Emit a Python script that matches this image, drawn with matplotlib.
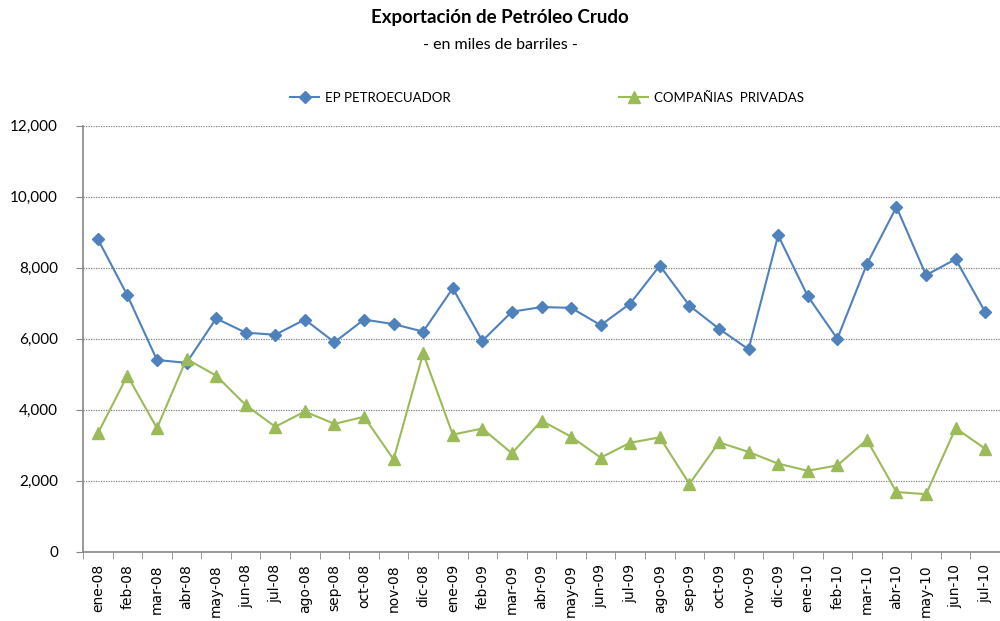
import matplotlib
matplotlib.use("Agg")
import matplotlib.pyplot as plt
from matplotlib import ticker

months = ["ene-08", "feb-08", "mar-08", "abr-08", "may-08", "jun-08", "jul-08",
          "ago-08", "sep-08", "oct-08", "nov-08", "dic-08",
          "ene-09", "feb-09", "mar-09", "abr-09", "may-09", "jun-09", "jul-09",
          "ago-09", "sep-09", "oct-09", "nov-09", "dic-09",
          "ene-10", "feb-10", "mar-10", "abr-10", "may-10", "jun-10", "jul-10"]

petroecuador = [8810, 7220, 5400, 5320, 6570, 6170, 6110, 6540, 5900, 6540, 6410, 6200,
                7420, 5940, 6760, 6890, 6870, 6380, 6990, 8060, 6930, 6280, 5700, 8910,
                7200, 6000, 8100, 9710, 7790, 8240, 6750]

privadas = [3330, 4960, 3480, 5430, 4960, 4130, 3520, 3950, 3600, 3800, 2600, 5590,
            3300, 3470, 2770, 3690, 3240, 2650, 3070, 3220, 1910, 3080, 2810, 2480,
            2280, 2430, 3150, 1680, 1620, 3480, 2900]

blue = "#4F81BD"
green = "#9BBB59"

plt.rcParams["font.family"] = ["Lato", "DejaVu Sans"]

fig = plt.figure(figsize=(10, 6.21), dpi=100)
ax = fig.add_axes([0.083, 0.1116, 0.917, 0.686])

x = list(range(len(months)))
ax.plot(x, petroecuador, color=blue, marker="D", markersize=6, linewidth=1.5,
        label="EP PETROECUADOR")
ax.plot(x, privadas, color=green, marker="^", markersize=8, linewidth=1.5,
        label="COMPAÑIAS  PRIVADAS")

ax.set_xlim(-0.5, len(months) - 0.5)
ax.set_ylim(0, 12000)
ax.yaxis.set_major_locator(ticker.MultipleLocator(2000))
ax.yaxis.set_major_formatter(ticker.FuncFormatter(lambda v, _: f"{v:,.0f}"))
ax.grid(True, axis="y", linestyle=(0, (1, 1)), color="#808080", linewidth=0.9)
ax.set_axisbelow(True)

ax.set_xticks(x)
ax.set_xticklabels(months, rotation=90, fontsize=10, family="DejaVu Sans")
ax.set_xticks([i - 0.5 for i in range(len(months) + 1)], minor=True)
ax.tick_params(axis="x", which="major", length=0, pad=9)
ax.tick_params(axis="x", which="minor", length=5, color="#868686")
ax.tick_params(axis="y", length=5, color="#868686", labelsize=11, pad=13)

for s in ["top", "right"]:
    ax.spines[s].set_visible(False)
for s in ["left", "bottom"]:
    ax.spines[s].set_color("#868686")
    ax.spines[s].set_linewidth(1.2)

fig.text(0.5, 0.972, "Exportación de Petróleo Crudo", ha="center", va="center",
         fontsize=13.5, fontweight="bold")
fig.text(0.5, 0.927, "- en miles de barriles -", ha="center", va="center", fontsize=11.5)

fig.legend(loc="center", bbox_to_anchor=(0.547, 0.842), ncol=2, frameon=False,
           fontsize=9.5, columnspacing=12.8, handlelength=2.2, handletextpad=0.4)

plt.savefig("out.png")
